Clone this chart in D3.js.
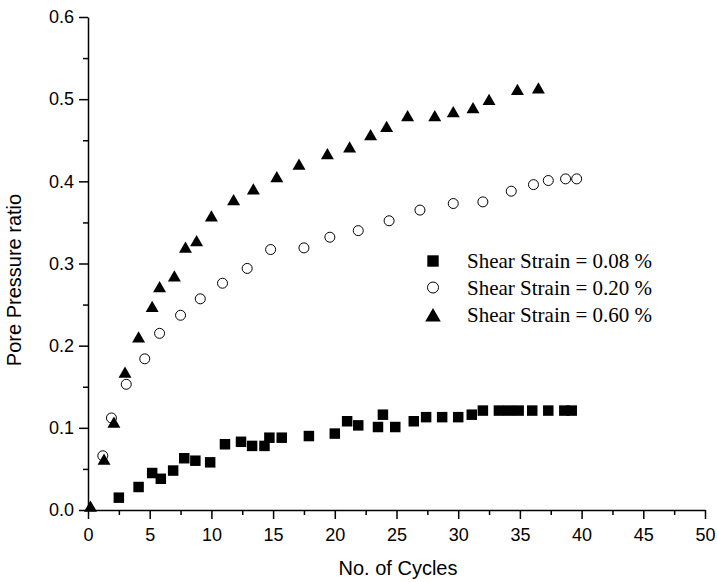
<!DOCTYPE html>
<html>
<head>
<meta charset="utf-8">
<script src="https://cdn.jsdelivr.net/npm/d3@7"></script>
<style>
  body { margin: 0; background: #fff; }
  .axis text { font-family: "Liberation Sans", Arial, sans-serif; font-size: 18px; fill: #000; }
  .axis path, .axis line { stroke: #000; stroke-width: 1.5; }
</style>
</head>
<body>
<div id="chart"></div>
<script>
// series data
const squareX = [2.5, 4.1, 5.2, 5.9, 6.9, 7.8, 8.7, 9.9, 11.1, 12.4, 13.3, 14.3, 14.7, 15.7, 17.9, 20.0, 21.0, 21.9, 23.5, 23.9, 24.9, 26.4, 27.4, 28.7, 30.0, 31.1, 32.0, 33.3, 34.1, 34.9, 36.0, 37.3, 38.6, 39.2];
const squareY = [0.015, 0.028, 0.045, 0.038, 0.048, 0.063, 0.060, 0.058, 0.080, 0.083, 0.078, 0.078, 0.088, 0.088, 0.090, 0.093, 0.108, 0.103, 0.101, 0.116, 0.101, 0.108, 0.113, 0.113, 0.113, 0.116, 0.121, 0.121, 0.121, 0.121, 0.121, 0.121, 0.121, 0.121];

const circleX = [1.2, 1.9, 3.1, 4.6, 5.8, 7.5, 9.1, 10.9, 12.9, 14.8, 17.5, 19.6, 21.9, 24.4, 26.9, 29.6, 32.0, 34.3, 36.1, 37.3, 38.7, 39.6];
const circleY = [0.066, 0.112, 0.153, 0.184, 0.215, 0.237, 0.257, 0.276, 0.294, 0.317, 0.319, 0.332, 0.340, 0.352, 0.365, 0.373, 0.375, 0.388, 0.396, 0.401, 0.403, 0.403];

const triangleX = [0.2, 1.3, 2.1, 3.0, 4.1, 5.2, 5.8, 7.0, 7.9, 8.8, 10.0, 11.8, 13.4, 15.3, 17.1, 19.4, 21.2, 22.9, 24.2, 25.9, 28.1, 29.6, 31.2, 32.5, 34.8, 36.5];
const triangleY = [0.005, 0.062, 0.107, 0.168, 0.211, 0.248, 0.272, 0.285, 0.320, 0.328, 0.358, 0.378, 0.391, 0.406, 0.421, 0.434, 0.442, 0.457, 0.467, 0.480, 0.480, 0.485, 0.490, 0.500, 0.512, 0.514];

const seriesNames = ["Shear Strain = 0.08 %", "Shear Strain = 0.20 %", "Shear Strain = 0.60 %"];
const xTicks = [0, 5, 10, 15, 20, 25, 30, 35, 40, 45, 50];
const yTicks = [0.0, 0.1, 0.2, 0.3, 0.4, 0.5, 0.6];

const margin = { top: 17, right: 12, bottom: 72, left: 88 },
    width = 717 - margin.left - margin.right,
    height = 582 - margin.top - margin.bottom;

const svg = d3.select("#chart")
    .append("svg")
    .attr("width", 717)
    .attr("height", 582);

const g = svg.append("g")
    .attr("transform", `translate(${margin.left},${margin.top})`);

const x = d3.scaleLinear().domain([0, 50]).range([0, 617]);
const y = d3.scaleLinear().domain([0, 0.6]).range([height, 0]);

// minor ticks first, then major ones on top
g.append("g")
    .attr("class", "axis")
    .attr("transform", `translate(0,${height})`)
    .call(d3.axisBottom(x).tickValues(d3.range(2.5, 50, 5)).tickSize(5).tickFormat(""))
    .select(".domain").remove();
g.append("g")
    .attr("class", "axis")
    .call(d3.axisLeft(y).tickValues(d3.range(0.05, 0.6, 0.1)).tickSize(5).tickFormat(""))
    .select(".domain").remove();

g.append("g")
    .attr("class", "axis")
    .attr("transform", `translate(0,${height})`)
    .call(d3.axisBottom(x).tickValues(xTicks).tickSize(9).tickPadding(6).tickSizeOuter(0))
    .selectAll("text").attr("dy", "0.9em");

g.append("g")
    .attr("class", "axis")
    .call(d3.axisLeft(y).tickValues(yTicks).tickSize(9).tickPadding(5).tickSizeOuter(0).tickFormat(d3.format(".1f")));

// axis titles
svg.append("text")
    .attr("x", 398)
    .attr("y", 575)
    .attr("text-anchor", "middle")
    .style("font-family", "Liberation Sans, Arial, sans-serif")
    .style("font-size", "20px")
    .text("No. of Cycles");

svg.append("text")
    .attr("transform", "translate(21,280) rotate(-90)")
    .attr("text-anchor", "middle")
    .style("font-family", "Liberation Sans, Arial, sans-serif")
    .style("font-size", "20px")
    .text("Pore Pressure ratio");

// markers
const sq = d3.symbol().type(d3.symbolSquare).size(110);
const tri = d3.symbol().type(d3.symbolTriangle).size(73);

g.selectAll(".sq")
    .data(d3.zip(squareX, squareY))
    .join("path")
    .attr("d", sq)
    .attr("transform", d => `translate(${x(d[0])},${y(d[1])})`)
    .attr("fill", "#000");

g.selectAll(".ci")
    .data(d3.zip(circleX, circleY))
    .join("circle")
    .attr("cx", d => x(d[0]))
    .attr("cy", d => y(d[1]))
    .attr("r", 5)
    .attr("fill", "none")
    .attr("stroke", "#000")
    .attr("stroke-width", 1);

// triangle path is centred on its centroid; nudge so the box centre sits on the value
g.selectAll(".tr")
    .data(d3.zip(triangleX, triangleY))
    .join("path")
    .attr("d", tri)
    .attr("transform", d => `translate(${x(d[0])},${y(d[1]) + 2})`)
    .attr("fill", "#000");

// legend
const legend = svg.append("g");
const rows = [261, 287.5, 315];
legend.append("path")
    .attr("d", d3.symbol().type(d3.symbolSquare).size(130))
    .attr("transform", `translate(433,${rows[0]})`);
legend.append("circle")
    .attr("cx", 433).attr("cy", rows[1]).attr("r", 5.5)
    .attr("fill", "none").attr("stroke", "#000");
legend.append("path")
    .attr("d", d3.symbol().type(d3.symbolTriangle).size(105))
    .attr("transform", `translate(433,${rows[2] + 2})`);

legend.selectAll("text")
    .data(seriesNames)
    .join("text")
    .attr("x", 467)
    .attr("y", (d, i) => rows[i] + 7)
    .style("font-family", "Liberation Serif, Times New Roman, serif")
    .style("font-size", "21px")
    .text(d => d);
</script>
</body>
</html>
